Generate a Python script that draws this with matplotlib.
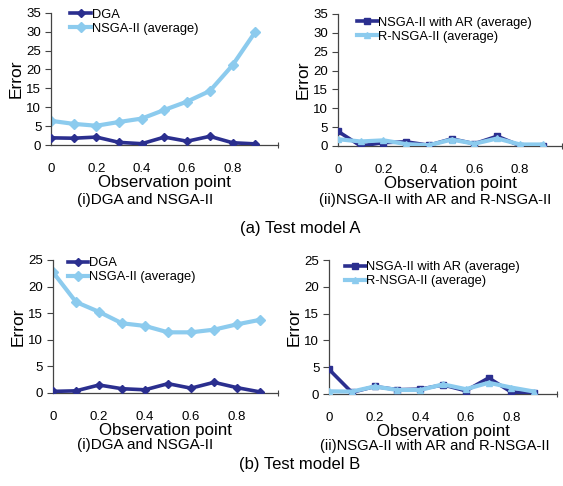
import matplotlib.pyplot as plt

plt.rcParams['font.family'] = ['Liberation Sans', 'DejaVu Sans']

obs = [0, 0.1, 0.2, 0.3, 0.4, 0.5, 0.6, 0.7, 0.8, 0.9]
xticks = [0, 0.2, 0.4, 0.6, 0.8]
xlabels = ['0', '0.2', '0.4', '0.6', '0.8']

# test model A
a_dga = [1.9, 1.8, 2.1, 0.7, 0.35, 2.1, 1.0, 2.3, 0.6, 0.3]
a_nsga = [6.4, 5.6, 5.1, 6.1, 7.0, 9.3, 11.5, 14.3, 21.1, 29.9]
a_ar = [3.9, 0.0, 0.9, 1.1, 0.2, 1.9, 0.6, 2.6, 0.1, 0.0]
a_rnsga = [1.8, 1.2, 1.5, 0.5, 0.2, 1.7, 0.6, 2.0, 0.4, 0.4]

# test model B
b_dga = [0.3, 0.4, 1.5, 0.8, 0.6, 1.75, 0.9, 2.0, 1.0, 0.2]
b_nsga = [22.7, 17.1, 15.25, 13.1, 12.6, 11.4, 11.4, 11.9, 12.9, 13.75]
b_ar = [4.6, 0.3, 1.4, 0.8, 0.9, 1.7, 0.6, 3.0, 0.35, 0.25]
b_rnsga = [0.5, 0.45, 1.4, 0.75, 0.75, 1.8, 0.9, 2.1, 1.2, 0.45]

dark = '#2b2f8f'
light = '#8ccbee'

fig = plt.figure(figsize=(5.63, 4.86), dpi=100)


def panel(rect, xmax, ymax, s1, s2, lab1, lab2, m1, m2, leg_xy, light_top):
    ax = fig.add_axes(rect)
    z2 = 4 if light_top else 2
    ax.plot(obs, s1, color=dark, lw=2.6, marker=m1, ms=4.5, label=lab1, zorder=3)
    ax.plot(obs, s2, color=light, lw=3, marker=m2, ms=5, label=lab2, zorder=z2)
    ax.set_xlim(0, xmax)
    ax.set_ylim(0, ymax)
    ax.set_yticks(range(0, ymax + 1, 5))
    ax.set_xticks(xticks)
    ax.set_xticklabels(xlabels)
    ax.set_xticks([xmax], minor=True)
    ax.tick_params(axis='x', which='major', length=0, pad=13, labelsize=9.5)
    ax.tick_params(axis='x', which='minor', length=5, width=0.8, direction='inout',
                   color='#444444')
    ax.tick_params(axis='y', length=4, width=0.8, direction='out', pad=3, labelsize=9.5,
                   color='#444444')
    for s in ['top', 'right']:
        ax.spines[s].set_visible(False)
    for s in ['left', 'bottom']:
        ax.spines[s].set_color('#444444')
        ax.spines[s].set_linewidth(0.9)
    ax.set_xlabel('Observation point', fontsize=12.2, labelpad=0)
    ax.set_ylabel('Error', fontsize=12.5, labelpad=2)
    ax.legend(loc='upper left', bbox_to_anchor=leg_xy,
              frameon=False, fontsize=9.3, handlelength=1.6, handletextpad=0.05,
              labelspacing=0.15, borderaxespad=0, borderpad=0)
    return ax


panel([0.0906, 0.7016, 0.403, 0.2722], 1.0, 35, a_dga, a_nsga,
      'DGA', 'NSGA-II (average)', 'D', 'D', (0.085, 1.03), False)
panel([0.6003, 0.6996, 0.398, 0.2716], 0.985, 35, a_ar, a_rnsga,
      'NSGA-II with AR (average)', 'R-NSGA-II (average)', 's', '^', (0.085, 0.98), True)
panel([0.0941, 0.1914, 0.3996, 0.2737], 0.978, 25, b_dga, b_nsga,
      'DGA', 'NSGA-II (average)', 'D', 'D', (0.065, 1.02), False)
panel([0.5844, 0.1893, 0.405, 0.2757], 1.0, 25, b_ar, b_rnsga,
      'NSGA-II with AR (average)', 'R-NSGA-II (average)', 's', '^', (0.07, 0.99), True)

fig.text(145 / 563, 1 - 200 / 486, '(i)DGA and NSGA-II', ha='center', va='center', fontsize=11)
fig.text(435 / 563, 1 - 200 / 486, '(ii)NSGA-II with AR and R-NSGA-II', ha='center', va='center', fontsize=10.8)
fig.text(300 / 563, 1 - 228 / 486, '(a) Test model A', ha='center', va='center', fontsize=12)
fig.text(145 / 563, 1 - 445 / 486, '(i)DGA and NSGA-II', ha='center', va='center', fontsize=11)
fig.text(435 / 563, 1 - 446 / 486, '(ii)NSGA-II with AR and R-NSGA-II', ha='center', va='center', fontsize=10.6)
fig.text(300 / 563, 1 - 464 / 486, '(b) Test model B', ha='center', va='center', fontsize=12)

fig.savefig('out.png', dpi=100)
